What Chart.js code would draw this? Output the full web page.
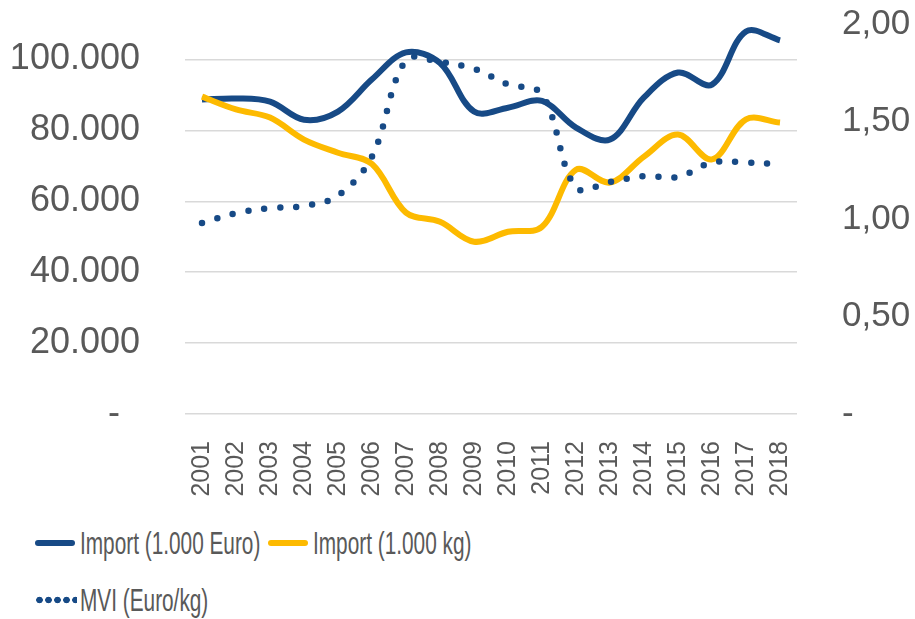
<!DOCTYPE html>
<html>
<head>
<meta charset="utf-8">
<script src="https://cdn.jsdelivr.net/npm/chart.js@4"></script>
<style>
  body { margin: 0; background: #fff; font-family: "Liberation Sans", Arial, sans-serif; }
  #wrap { position: relative; width: 915px; height: 619px; }
  #box { position: absolute; left: 0; top: 0; width: 915px; height: 510px; }
  .item { position: absolute; height: 40px; }
  .swatch { position: absolute; top: 17px; width: 40px; height: 6px; border-radius: 3px; }
  .dots { position: absolute; top: 16px; width: 42px; height: 8px;
          background-size: 9px 8px; background-repeat: repeat-x; }
  .txt { position: absolute; left: 45px; top: 0; font-size: 32px; line-height: 40px; color: #595959;
         white-space: nowrap; transform: scaleX(0.65); transform-origin: left center; }
</style>
</head>
<body>
<div id="wrap">
  <div id="box"><canvas id="c"></canvas></div>
  <div id="legend"></div>
</div>
<script>
// jahre
var years = ['2001','2002','2003','2004','2005','2006','2007','2008','2009',
             '2010','2011','2012','2013','2014','2015','2016','2017','2018'];
// Import (1.000 Euro)
var importEuro = [88700, 89000, 88100, 83000, 85300, 94400, 102000, 99000, 85300,
                  86400, 88300, 80800, 77400, 89300, 96300, 92900, 107900, 105400];
// Import (1.000 kg)
var importKg = [89500, 85900, 83600, 77400, 73700, 70500, 56800, 54200, 48600,
                51400, 52800, 68900, 65300, 72600, 78800, 71800, 83100, 82200];
// MVI (Euro/kg)
var mvi = [0.98, 1.03, 1.056, 1.067, 1.12, 1.32, 1.815, 1.805, 1.77,
           1.69, 1.64, 1.16, 1.19, 1.22, 1.215, 1.29, 1.29, 1.28];
// achsen
var leftTicks = [0, 20000, 40000, 60000, 80000, 100000];
var rightTicks = [0, 0.5, 1, 1.5, 2];

var blue = '#174A86';
var yellow = '#FDBA00';
var grey = '#595959';

function fmtLeft(v){
  if (v === 0) return '-  ';
  return String(v).replace(/\B(?=(\d{3})+(?!\d))/g, '.');
}
function fmtRight(v){
  if (v === 0) return '-';
  return v.toFixed(2).replace('.', ',');
}
function noPad(s){ s.paddingTop = 0; s.paddingBottom = 0; s.paddingLeft = 0; s.paddingRight = 0; }

var ctx = document.getElementById('c').getContext('2d');
var chart = new Chart(ctx, {
  type: 'line',
  data: {
    labels: years,
    datasets: [{
      label: 'Import (1.000 Euro)',
      data: importEuro,
      borderColor: blue,
      borderWidth: 6,
      tension: 0.35,
      pointRadius: 0,
      yAxisID: 'y',
      order: 2
    },{
      label: 'Import (1.000 kg)',
      data: importKg,
      borderColor: yellow,
      borderWidth: 6,
      tension: 0.35,
      pointRadius: 0,
      yAxisID: 'y',
      order: 1
    },{
      label: 'MVI (Euro/kg)',
      data: mvi,
      borderColor: blue,
      borderWidth: 6.5,
      borderDash: [0, 16],
      borderCapStyle: 'round',
      tension: 0.35,
      pointRadius: 0,
      yAxisID: 'y1',
      order: 0
    }]
  },
  options: {
    responsive: true,
    maintainAspectRatio: false,
    animation: false,
    layout: { padding: { top: 24, left: 0, right: 0, bottom: 0 } },
    plugins: { legend: { display: false }, tooltip: { enabled: false } },
    scales: {
      x: {
        offset: true,
        grid: { display: false },
        border: { display: false },
        ticks: {
          minRotation: 90, maxRotation: 90, padding: 19,
          color: grey, font: { family: 'Liberation Sans', size: 25 }
        },
        afterFit: function(s){ s.height = 96; noPad(s); }
      },
      y: {
        position: 'left',
        min: 0, max: 110000,
        grid: { color: '#D9D9D9', lineWidth: 1.5, drawTicks: false },
        border: { display: false },
        ticks: {
          padding: 45, color: grey,
          font: { family: 'Liberation Sans', size: 36 },
          callback: fmtLeft
        },
        afterBuildTicks: function(s){ s.ticks = leftTicks.map(function(v){ return { value: v }; }); },
        afterFit: function(s){ s.width = 185; noPad(s); }
      },
      y1: {
        position: 'right',
        min: 0, max: 2,
        grid: { display: false, drawTicks: false },
        border: { display: false },
        ticks: {
          padding: 45, color: grey,
          font: { family: 'Liberation Sans', size: 35 },
          callback: fmtRight
        },
        afterBuildTicks: function(s){ s.ticks = rightTicks.map(function(v){ return { value: v }; }); },
        afterFit: function(s){ s.width = 118; noPad(s); }
      }
    }
  }
});

// legende wie in excel, aus den datasets gebaut
var pos = [[35, 523], [268, 523], [35, 580]];
var lg = document.getElementById('legend');
chart.data.datasets.forEach(function(ds, i){
  var it = document.createElement('div');
  it.className = 'item';
  it.style.left = pos[i][0] + 'px';
  it.style.top = pos[i][1] + 'px';
  var sw = document.createElement('div');
  if (ds.borderDash) {
    sw.className = 'dots';
    sw.style.backgroundImage = 'radial-gradient(circle, ' + ds.borderColor + ' 3px, transparent 3.6px)';
  } else {
    sw.className = 'swatch';
    sw.style.background = ds.borderColor;
  }
  var tx = document.createElement('div');
  tx.className = 'txt';
  tx.textContent = ds.label;
  it.appendChild(sw);
  it.appendChild(tx);
  lg.appendChild(it);
});
</script>
</body>
</html>
